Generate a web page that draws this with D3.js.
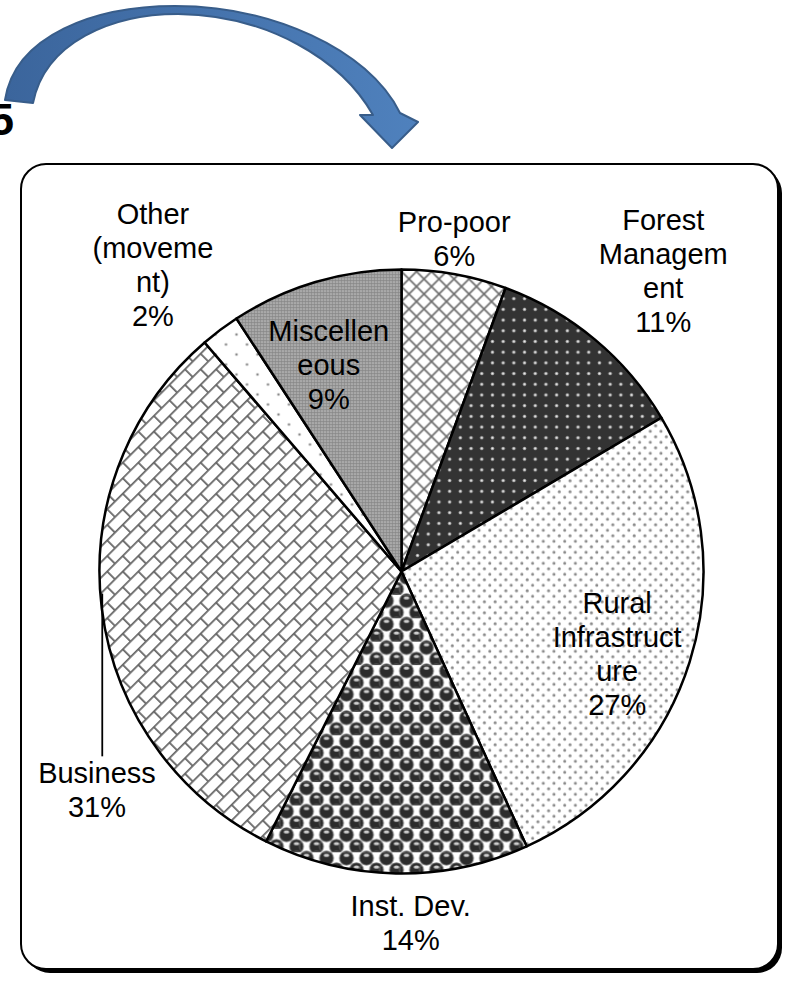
<!DOCTYPE html>
<html>
<head>
<meta charset="utf-8">
<script src="https://cdn.jsdelivr.net/npm/d3@7"></script>
<style>
  html, body { margin: 0; padding: 0; background: #fff; }
  svg { display: block; }
  text { font-family: 'Liberation Sans', Arial, sans-serif; }
</style>
</head>
<body>
<div id="chart"></div>
<script>
const width = 790;
const height = 982;

// data, clockwise from 12 o'clock
const categories = ['Pro-poor', 'Forest Management', 'Rural Infrastructure', 'Inst. Dev.', 'Business', 'Other (movement)', 'Miscelleneous'];
const shares = [5.6, 10.9, 26.7, 14.2, 31.3, 2.1, 9.2];
const labelLines = [
  ['Pro-poor'],
  ['Forest', 'Managem', 'ent'],
  ['Rural', 'Infrastruct', 'ure'],
  ['Inst. Dev.'],
  ['Business'],
  ['Other', '(moveme', 'nt)'],
  ['Miscellen', 'eous']
];
const patternIds = ['crosshatch', 'darkdots', 'lightdots', 'spheres', 'bricks', 'sparsedots', 'finegrid'];

// layout
const CX = 401.5;
const CY = 571.5;
const RADIUS = 302;
const FONT_SIZE = 29;
const LINE_H = 34;
// label spot per slice: [angle from top in degrees, distance from centre]
const labelSpots = [[9, 337], [41, 399], [111, 231], [178.5, 351], [234.3, 375], [321, 395], [340.6, 219]];
const LEADER_SLICE = 4;

const svg = d3.select('#chart')
  .append('svg')
  .attr('width', width)
  .attr('height', height);

const defs = svg.append('defs');

const arrowGrad = defs.append('linearGradient')
  .attr('id', 'arrowGrad')
  .attr('x1', '0%').attr('x2', '100%');
arrowGrad.append('stop').attr('offset', '0%').attr('stop-color', '#3b659c');
arrowGrad.append('stop').attr('offset', '100%').attr('stop-color', '#4f81bd');

const makePattern = (id, w, h, transform) => {
  const p = defs.append('pattern')
    .attr('id', id)
    .attr('patternUnits', 'userSpaceOnUse')
    .attr('width', w)
    .attr('height', h);
  if (transform) p.attr('patternTransform', transform);
  return p;
};

// Pro-poor: diagonal crosshatch
let p = makePattern('crosshatch', 15, 15);
p.append('rect').attr('width', 15).attr('height', 15).attr('fill', '#fff');
p.append('path').attr('d', 'M0,0L15,15M15,0L0,15').attr('stroke', '#6e6e6e').attr('stroke-width', 1.7);

// Forest: dark with light dots
p = makePattern('darkdots', 10.7, 10.7);
p.append('rect').attr('width', 10.7).attr('height', 10.7).attr('fill', '#333');
p.append('circle').attr('cx', 5.35).attr('cy', 5.35).attr('r', 1.8).attr('fill', '#9a9a9a');
p.append('circle').attr('cx', 5.35).attr('cy', 5.35).attr('r', 1).attr('fill', '#eee');

// Rural: white with staggered grey dots
p = makePattern('lightdots', 10.7, 11);
p.append('rect').attr('width', 10.7).attr('height', 11).attr('fill', '#fff');
[[2.7, 2.75], [8.05, 8.25]].forEach(([x, y]) => {
  p.append('circle').attr('cx', x).attr('cy', y).attr('r', 1.5).attr('fill', '#8a8a8a');
});

// Inst. Dev.: spheres
p = makePattern('spheres', 20, 23.4);
p.append('rect').attr('width', 20).attr('height', 23.4).attr('fill', '#fff');
p.append('path').attr('d', 'M0,11.7H20M10,0V23.4').attr('stroke', '#a8a8a8').attr('stroke-width', 1.2);
[[5, 5.85], [15, 17.55], [-5, 17.55], [25, 5.85], [5, -5.85], [15, 29.25], [5, 29.25], [-5, -5.85], [25, 17.55]].forEach(([x, y]) => {
  p.append('circle').attr('cx', x).attr('cy', y).attr('r', 7).attr('fill', '#2c2c2c').attr('stroke', '#707070').attr('stroke-width', 0.8);
  p.append('ellipse').attr('cx', x).attr('cy', y - 2.8).attr('rx', 2.8).attr('ry', 1.5).attr('fill', '#cfcfcf');
});

// Business: diagonal bricks
p = makePattern('bricks', 22, 22, 'rotate(-45)');
p.append('rect').attr('width', 22).attr('height', 22).attr('fill', '#fff');
p.append('path').attr('d', 'M0,0.9H22M0,11.9H22M0.9,0V11.9M11.9,11.9V22').attr('stroke', '#666').attr('stroke-width', 1.8);

// Other: sparse dots
p = makePattern('sparsedots', 21, 20);
p.append('rect').attr('width', 21).attr('height', 20).attr('fill', '#fff');
[[3, 3], [13.5, 13]].forEach(([x, y]) => {
  p.append('circle').attr('cx', x).attr('cy', y).attr('r', 1.3).attr('fill', '#8a8a8a');
});

// Miscelleneous: fine grey grid
p = makePattern('finegrid', 3, 3);
p.append('rect').attr('width', 3).attr('height', 3).attr('fill', '#888');
p.append('circle').attr('cx', 1.5).attr('cy', 1.5).attr('r', 0.85).attr('fill', '#dedede');

// curved arrow above the frame
svg.append('path')
  .attr('d', 'M5,100 C15,35 95,6 175,6 C270,6 368,48 400,113 L418,122 L392,148 L360,115 L373,115 C342,60 268,15 178,14 C112,14 45,42 33,103 Z')
  .attr('fill', 'url(#arrowGrad)')
  .attr('stroke', '#385d8a')
  .attr('stroke-width', 2)
  .attr('stroke-linejoin', 'round');

// cut-off figure number
svg.append('text')
  .attr('x', 14)
  .attr('y', 135)
  .attr('text-anchor', 'end')
  .attr('font-size', 44)
  .attr('font-weight', 'bold')
  .attr('fill', '#000')
  .text('5');

// framed box with shadow
svg.append('rect')
  .attr('x', 25).attr('y', 168)
  .attr('width', 757).attr('height', 805)
  .attr('rx', 25)
  .attr('fill', '#000');
svg.append('rect')
  .attr('x', 21).attr('y', 164)
  .attr('width', 757).attr('height', 805)
  .attr('rx', 25)
  .attr('fill', '#fff')
  .attr('stroke', '#000')
  .attr('stroke-width', 2);

const pie = d3.pie().sort(null).value((d) => d.value);
const arc = d3.arc().innerRadius(0).outerRadius(RADIUS);

const slices = pie(categories.map((name, i) => ({
  name,
  value: shares[i],
  lines: labelLines[i],
  pattern: patternIds[i]
})));

const g = svg.append('g').attr('transform', `translate(${CX}, ${CY})`);

g.selectAll('path.slice')
  .data(slices)
  .enter().append('path')
    .attr('class', 'slice')
    .attr('d', arc)
    .attr('fill', (d) => `url(#${d.data.pattern})`)
    .attr('stroke', '#000')
    .attr('stroke-width', 2.5)
    .attr('stroke-linejoin', 'round');

const total = d3.sum(shares);
const polar = (deg, r) => {
  const a = deg * Math.PI / 180;
  return [r * Math.sin(a), -r * Math.cos(a)];
};

const labels = g.selectAll('g.label')
  .data(slices)
  .enter().append('g')
    .attr('class', 'label')
    .attr('transform', (d, i) => {
      const [x, y] = polar(labelSpots[i][0], labelSpots[i][1]);
      return `translate(${x}, ${y})`;
    });

labels.append('text')
  .attr('text-anchor', 'middle')
  .attr('font-size', FONT_SIZE)
  .attr('fill', '#000')
  .selectAll('tspan')
  .data((d) => d.data.lines.concat([`${Math.round(d.data.value / total * 100)}%`]))
  .enter().append('tspan')
    .attr('x', 0)
    .attr('y', (t, i, nodes) => (i - (nodes.length - 1) / 2) * LINE_H)
    .attr('dy', '0.35em')
    .text((t) => t);

// leader line for the Business label: runs straight down from the rim
const lead = slices[LEADER_SLICE];
const midDeg = (lead.startAngle + lead.endAngle) / 2 * 180 / Math.PI;
const [lx] = polar(midDeg, RADIUS);
const rimY = Math.sqrt(RADIUS * RADIUS - lx * lx) * 0.6;
const [, labelY] = polar(labelSpots[LEADER_SLICE][0], labelSpots[LEADER_SLICE][1]);
g.append('line')
  .attr('x1', lx + 0.5).attr('y1', rimY)
  .attr('x2', lx + 0.5).attr('y2', labelY - LINE_H / 2 - 17)
  .attr('stroke', '#000')
  .attr('stroke-width', 1.8);
</script>
</body>
</html>
